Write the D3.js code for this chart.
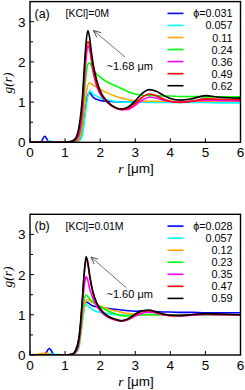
<!DOCTYPE html>
<html>
<head>
<meta charset="utf-8">
<script src="https://cdn.jsdelivr.net/npm/d3@7"></script>
<style>
  body { margin: 0; background: #fff; }
  svg { display: block; }
  text { font-family: "Liberation Sans", Arial, sans-serif; fill: #000; }
  .serif { font-family: "Liberation Serif", "DejaVu Serif", serif; font-style: italic; }
</style>
</head>
<body>
<svg id="chart" width="245" height="390"></svg>
<script>
// colours of the seven volume fractions, same order in both panels
var colors = ["#0000ff", "#00ffff", "#ffa500", "#00ff00", "#ff00ff", "#ff0000", "#000000"];

// panel (a) [KCl]=0M
var phiA = ["0.031", "0.057", "0.11", "0.24", "0.36", "0.49", "0.62"];
var rA = [0, 0.3, 0.42, 0.55, 0.7, 1.0, 1.2, 1.3, 1.4, 1.5, 1.55, 1.6, 1.65, 1.7, 1.75, 1.8, 1.9, 2.0,
          2.2, 2.4, 2.6, 2.8, 3.0, 3.2, 3.4, 3.6, 3.8, 4.0, 4.3, 4.6, 5.0, 5.4, 6.0];
var gA_031 = [0, 0, 0.15, 0, 0, 0, 0, 0.01, 0.05, 0.35, 0.7, 1.0, 1.18, 1.23, 1.18, 1.12, 1.07, 1.04,
              1.02, 1.01, 1.01, 1.0, 1.0, 1.0, 1.0, 1.0, 1.0, 1.0, 1.0, 1.0, 1.0, 1.0, 1.0];
var gA_057 = [0, 0, 0, 0.04, 0, 0, 0, 0, 0.03, 0.2, 0.5, 0.85, 1.15, 1.28, 1.25, 1.2, 1.15, 1.1,
              1.05, 1.02, 1.0, 1.0, 1.0, 1.0, 0.99, 0.99, 0.99, 0.99, 0.99, 0.99, 0.99, 0.98, 0.98];
var gA_11 = [0, 0, 0, 0, 0, 0, 0, 0.01, 0.08, 0.4, 0.8, 1.2, 1.42, 1.48, 1.45, 1.42, 1.37, 1.32,
             1.23, 1.16, 1.1, 1.06, 1.03, 1.02, 1.02, 1.02, 1.02, 1.02, 1.02, 1.02, 1.02, 1.02, 1.02];
var gA_24 = [0, 0, 0, 0, 0, 0, 0.01, 0.03, 0.15, 0.6, 1.2, 1.7, 1.95, 1.98, 1.9, 1.82, 1.7, 1.62,
             1.5, 1.42, 1.34, 1.26, 1.2, 1.17, 1.16, 1.16, 1.15, 1.15, 1.14, 1.14, 1.13, 1.13, 1.13];
var gA_36 = [0, 0, 0, 0, 0, 0, 0.01, 0.04, 0.2, 0.8, 1.5, 2.1, 2.4, 2.3, 2.05, 1.75, 1.4, 1.2,
             1.0, 0.87, 0.81, 0.82, 0.92, 1.05, 1.12, 1.1, 1.05, 1.01, 1.0, 1.02, 1.05, 1.04, 1.03];
var gA_49 = [0, 0, 0, 0, 0, 0, 0.02, 0.07, 0.3, 1.0, 1.7, 2.3, 2.5, 2.4, 2.1, 1.8, 1.45, 1.22,
             1.0, 0.87, 0.82, 0.85, 0.97, 1.12, 1.2, 1.16, 1.08, 1.02, 0.99, 1.02, 1.08, 1.07, 1.06];
var gA_62 = [0, 0, 0, 0, 0, 0, 0.03, 0.1, 0.4, 1.2, 1.9, 2.5, 2.78, 2.6, 2.25, 1.95, 1.55, 1.28,
             1.02, 0.88, 0.83, 0.88, 1.03, 1.22, 1.31, 1.27, 1.17, 1.09, 1.05, 1.08, 1.16, 1.12, 1.1];

// panel (b) [KCl]=0.01M
var phiB = ["0.028", "0.057", "0.12", "0.23", "0.35", "0.47", "0.59"];
var rB = [0, 0.3, 0.4, 0.55, 0.7, 1.0, 1.2, 1.3, 1.4, 1.45, 1.5, 1.55, 1.6, 1.65, 1.7, 1.8, 1.9, 2.0,
          2.2, 2.4, 2.6, 2.8, 3.0, 3.2, 3.4, 3.6, 3.8, 4.0, 4.3, 4.6, 5.0, 5.4, 6.0];
var gB_028 = [0, 0, 0, 0.16, 0, 0, 0.02, 0.12, 0.45, 0.8, 1.1, 1.25, 1.32, 1.3, 1.27, 1.22, 1.2, 1.18,
              1.16, 1.14, 1.12, 1.1, 1.09, 1.1, 1.08, 1.08, 1.07, 1.07, 1.06, 1.06, 1.05, 1.05, 1.05];
var gB_057 = [0, 0, 0.03, 0.03, 0.02, 0, 0, 0.04, 0.2, 0.5, 0.85, 1.15, 1.25, 1.22, 1.18, 1.12, 1.08, 1.06,
              1.03, 1.01, 1.0, 0.99, 0.99, 1.0, 1.0, 1.0, 1.0, 1.0, 1.0, 1.0, 1.0, 1.0, 1.0];
var gB_12 = [0, 0.03, 0.05, 0.02, 0, 0, 0.01, 0.05, 0.25, 0.55, 0.95, 1.25, 1.35, 1.38, 1.35, 1.3, 1.26, 1.22,
             1.15, 1.1, 1.06, 1.03, 1.01, 1.0, 1.0, 1.0, 1.0, 1.0, 1.0, 1.0, 1.0, 1.0, 1.0];
var gB_23 = [0, 0, 0, 0, 0, 0, 0.01, 0.06, 0.3, 0.65, 1.1, 1.4, 1.5, 1.45, 1.4, 1.32, 1.25, 1.2,
             1.1, 1.03, 0.98, 0.97, 0.98, 1.0, 1.01, 1.0, 1.0, 1.0, 1.0, 1.0, 1.0, 1.0, 1.0];
var gB_35 = [0, 0, 0, 0, 0, 0, 0.01, 0.07, 0.35, 0.75, 1.3, 1.75, 1.95, 1.85, 1.65, 1.4, 1.22, 1.1,
             0.95, 0.88, 0.85, 0.88, 0.97, 1.04, 1.07, 1.04, 1.0, 0.98, 0.98, 0.99, 1.01, 1.0, 1.0];
var gB_47 = [0, 0, 0, 0, 0, 0, 0.02, 0.09, 0.4, 0.85, 1.45, 2.05, 2.38, 2.25, 1.95, 1.52, 1.28, 1.13,
             0.97, 0.89, 0.85, 0.89, 1.0, 1.08, 1.1, 1.06, 1.01, 0.98, 0.98, 1.0, 1.02, 1.01, 1.0];
var gB_59 = [0, 0, 0, 0, 0, 0, 0.02, 0.1, 0.45, 0.9, 1.5, 2.1, 2.45, 2.3, 2.0, 1.55, 1.3, 1.15,
             0.98, 0.9, 0.85, 0.9, 1.02, 1.1, 1.12, 1.07, 1.02, 0.99, 0.98, 1.0, 1.03, 1.02, 1.0];

var xTicks = [0, 1, 2, 3, 4, 5, 6];
var yTicks = [0, 1, 2, 3];
var yMinor = [0.5, 1.5, 2.5, 3.5];

var svg = d3.select("#chart");

function drawPanel(p) {
    var g = svg.append("g");
    var x = d3.scaleLinear().domain([0, 6]).range([30, 240.5]);
    var y = d3.scaleLinear().domain([0, 3.5]).range([p.bottom, p.bottom - 140.7]);

    g.append("clipPath").attr("id", "clip" + p.tag)
        .append("rect")
        .attr("x", x(0)).attr("y", y(3.5))
        .attr("width", x(6) - x(0)).attr("height", y(0) - y(3.5));

    var line = d3.line()
        .x(function(d) { return x(d[0]); })
        .y(function(d) { return y(d[1]); })
        .curve(d3.curveMonotoneX);

    var curves = g.append("g").attr("clip-path", "url(#clip" + p.tag + ")");
    p.series.forEach(function(s, i) {
        var pts = p.r.map(function(r, k) { return [r, s[k]]; });
        curves.append("path")
            .attr("d", line(pts))
            .attr("fill", "none")
            .attr("stroke", colors[i])
            .attr("stroke-width", 1.6)
            .attr("stroke-linejoin", "round");
    });

    // frame
    g.append("rect")
        .attr("x", x(0)).attr("y", y(3.5))
        .attr("width", x(6) - x(0)).attr("height", y(0) - y(3.5))
        .attr("fill", "none").attr("stroke", "#000").attr("stroke-width", 1.4);

    // ticks, drawn inward
    xTicks.forEach(function(t) {
        g.append("line").attr("x1", x(t)).attr("x2", x(t))
            .attr("y1", y(0)).attr("y2", y(0) - 4)
            .attr("stroke", "#000").attr("stroke-width", 1);
        g.append("text").attr("x", x(t)).attr("y", y(0) + 14.5)
            .attr("text-anchor", "middle").attr("font-size", 13.5).text(t);
    });
    yTicks.forEach(function(t) {
        g.append("line").attr("x1", x(0)).attr("x2", x(0) + 4)
            .attr("y1", y(t)).attr("y2", y(t))
            .attr("stroke", "#000").attr("stroke-width", 1);
        g.append("text").attr("x", 25.5).attr("y", y(t) + 5)
            .attr("text-anchor", "end").attr("font-size", 13.5).text(t);
    });
    yMinor.forEach(function(t) {
        g.append("line").attr("x1", x(0)).attr("x2", x(0) + 3)
            .attr("y1", y(t)).attr("y2", y(t))
            .attr("stroke", "#000").attr("stroke-width", 1);
    });

    // axis titles
    var xl = g.append("text").attr("x", 136).attr("y", y(0) + 31)
        .attr("text-anchor", "middle").attr("font-size", 13.5);
    xl.append("tspan").attr("class", "serif").text("r");
    xl.append("tspan").text(" [\u03bcm]");
    g.append("text").attr("class", "serif")
        .attr("transform", "translate(12," + p.ylab + ") rotate(-90)")
        .attr("text-anchor", "middle").attr("font-size", 13.5).text("g(r)");

    // panel label and salt concentration
    g.append("text").attr("x", 34.5).attr("y", y(3.5) + 16)
        .attr("font-size", 12.5).text(p.label);
    g.append("text").attr("x", 65.5).attr("y", y(3.5) + 15.5)
        .attr("font-size", 10.5).text(p.salt);

    // legend
    p.phi.forEach(function(v, i) {
        var ly = y(3.5) + 11.8 + i * 12.05;
        g.append("line").attr("x1", 167.5).attr("x2", 183.5)
            .attr("y1", ly).attr("y2", ly)
            .attr("stroke", colors[i]).attr("stroke-width", 1.6);
        g.append("text").attr("x", 232.5).attr("y", ly + 4)
            .attr("text-anchor", "end").attr("font-size", 10.8)
            .text(i === 0 ? "\u03d5=" + v : v);
    });

    // peak annotation
    g.append("line")
        .attr("x1", p.arrow[0]).attr("y1", p.arrow[1])
        .attr("x2", p.arrow[2]).attr("y2", p.arrow[3])
        .attr("stroke", "#333").attr("stroke-width", 0.7)
        .attr("marker-end", "url(#head)");
    g.append("text").attr("x", 106.5).attr("y", p.noteY)
        .attr("font-size", 11).text(p.note);
}

svg.append("defs").append("marker")
    .attr("id", "head").attr("viewBox", "0 0 10 10")
    .attr("refX", 9).attr("refY", 5)
    .attr("markerWidth", 8).attr("markerHeight", 8)
    .attr("orient", "auto").attr("markerUnits", "userSpaceOnUse")
    .append("path").attr("d", "M0,1 L9,5 L0,9")
    .attr("fill", "none").attr("stroke", "#333").attr("stroke-width", 1);

drawPanel({
    tag: "a", bottom: 142.3, ylab: 83, label: "(a)", salt: "[KCl]=0M",
    phi: phiA, r: rA,
    series: [gA_031, gA_057, gA_11, gA_24, gA_36, gA_49, gA_62],
    arrow: [125, 57, 93.5, 30.5], note: "~1.68 \u03bcm", noteY: 70
});
drawPanel({
    tag: "b", bottom: 355, ylab: 277, label: "(b)", salt: "[KCl]=0.01M",
    phi: phiB, r: rB,
    series: [gB_028, gB_057, gB_12, gB_23, gB_35, gB_47, gB_59],
    arrow: [126.5, 288, 91, 257], note: "~1.60 \u03bcm", noteY: 298
});
</script>
</body>
</html>
